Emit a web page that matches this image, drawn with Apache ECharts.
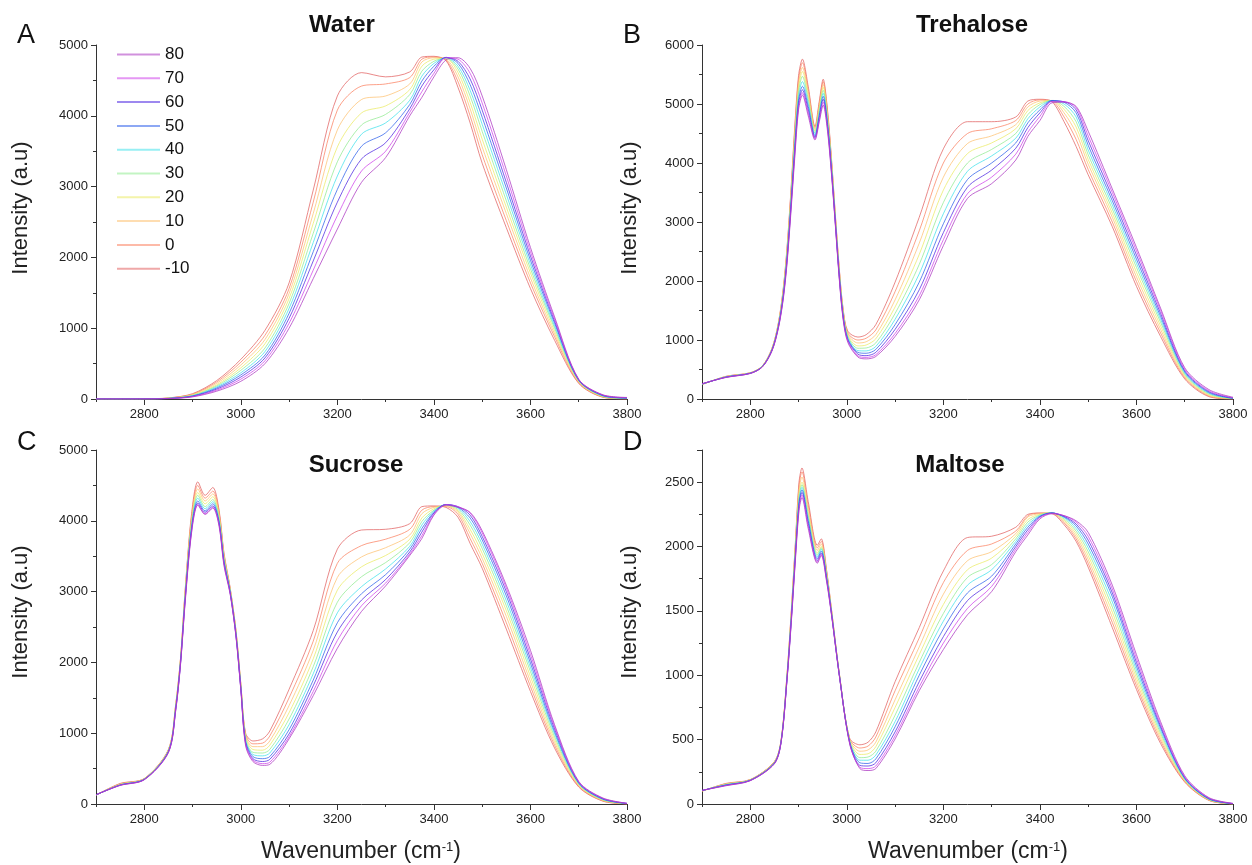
<!DOCTYPE html>
<html><head><meta charset="utf-8">
<script src="https://cdn.jsdelivr.net/npm/echarts@6/dist/echarts.min.js"></script>
<style>html,body{margin:0;padding:0;background:#fff}#c{width:1252px;height:865px}</style>
</head><body><div id="c"></div>
<script>
// Temperatures (legend labels), in series order
const temps = ['-10','0','10','20','30','40','50','60','70','80'];
const legendOrder = ['80','70','60','50','40','30','20','10','0','-10'];
const colors = ['#e16161','#fb8161','#fdc171','#ebeb65','#91eb91','#41e1eb','#2f61eb','#4d27e1','#cf41eb','#ab37c1'];
const xTickLabels = [2800,3000,3200,3400,3600,3800];

// ---- Water ----
const waveWater = [2700,2800,2850,2900,2950,3000,3050,3100,3150,3200,3250,3300,3350,3375,3400,3425,3450,3475,3500,3550,3600,3650,3700,3750,3800];
const water = [
  [0,3,15,75,260,560,970,1640,2950,4280,4610,4550,4620,4830,4840,4780,4400,3900,3330,2420,1560,830,220,25,0],
  [0,3,13,68,240,520,900,1560,2780,4080,4420,4450,4540,4800,4830,4790,4480,4000,3450,2520,1640,880,230,28,2],
  [0,2,12,62,220,480,840,1490,2620,3800,4230,4280,4450,4760,4820,4800,4550,4100,3560,2620,1710,920,240,32,4],
  [0,2,11,56,200,440,780,1420,2480,3560,4040,4140,4370,4700,4800,4810,4610,4190,3670,2710,1780,960,250,36,6],
  [0,2,10,50,185,405,720,1350,2340,3350,3870,4020,4300,4630,4770,4815,4660,4280,3780,2800,1840,1000,255,40,8],
  [0,2,9,46,170,370,670,1280,2210,3150,3740,3900,4220,4560,4740,4820,4700,4360,3880,2890,1900,1030,260,44,10],
  [0,1,8,42,155,340,620,1210,2080,2960,3570,3760,4160,4490,4700,4825,4740,4440,3980,2980,1960,1070,265,48,12],
  [0,1,7,38,140,310,580,1140,1950,2780,3390,3620,4100,4420,4650,4825,4770,4520,4080,3060,2020,1100,270,52,15],
  [0,1,6,34,125,280,540,1070,1820,2590,3220,3500,4050,4340,4600,4820,4800,4600,4180,3150,2080,1130,275,56,18],
  [0,1,5,30,110,250,500,1000,1700,2400,3060,3410,4000,4260,4550,4790,4820,4670,4280,3240,2140,1160,280,60,22]
];

// ---- Trehalose ----
const waveTrehalose = [2700,2750,2800,2825,2845,2858,2868,2876,2884,2892,2900,2908,2920,2934,2943,2951,2960,2968,2976,2984,2992,3002,3023,3040,3060,3100,3150,3200,3250,3300,3350,3375,3400,3425,3450,3475,3500,3550,3600,3650,3700,3750,3800];
const trehalose = [
  [245,385,445,560,860,1280,1850,2550,3500,4590,5480,5760,5300,4620,5050,5420,4900,4100,3150,2250,1550,1150,1050,1090,1260,1980,3080,4240,4700,4700,4780,5050,5080,5040,4700,4280,3800,2920,1910,1060,340,40,0],
  [245,382,443,558,855,1270,1830,2520,3460,4530,5410,5700,5250,4600,5010,5380,4860,4070,3130,2230,1530,1120,1000,1030,1170,1820,2850,4000,4500,4580,4720,5000,5070,5050,4780,4400,3890,3000,1990,1120,360,50,2],
  [248,380,442,556,850,1260,1810,2490,3420,4470,5340,5620,5200,4570,4970,5330,4820,4040,3110,2210,1510,1100,950,970,1090,1680,2640,3760,4330,4460,4650,4950,5050,5060,4850,4510,3980,3080,2070,1180,380,60,4],
  [250,378,440,554,845,1250,1790,2460,3380,4410,5270,5550,5140,4540,4930,5280,4780,4010,3090,2190,1490,1080,900,915,1020,1560,2450,3540,4160,4340,4580,4890,5020,5060,4910,4610,4060,3150,2150,1240,400,72,6],
  [250,376,440,552,840,1240,1770,2430,3340,4350,5200,5470,5080,4510,4890,5230,4740,3980,3070,2170,1470,1060,860,865,950,1450,2280,3330,4000,4230,4500,4820,4990,5060,4960,4700,4140,3220,2230,1300,420,85,8],
  [252,374,438,550,835,1230,1750,2400,3300,4290,5130,5380,5020,4480,4850,5180,4700,3950,3050,2150,1450,1040,820,815,890,1350,2120,3140,3860,4120,4420,4750,4950,5060,5000,4780,4220,3290,2300,1350,440,98,10],
  [255,372,436,548,830,1220,1730,2370,3260,4230,5060,5300,4960,4450,4810,5130,4660,3920,3030,2130,1430,1020,790,775,840,1260,1980,2970,3720,4000,4340,4680,4900,5060,5030,4850,4300,3360,2370,1400,460,110,12],
  [255,370,435,546,825,1210,1710,2340,3220,4170,5000,5240,4900,4430,4770,5080,4620,3890,3010,2110,1410,1000,760,735,790,1180,1850,2820,3590,3880,4250,4600,4850,5050,5040,4900,4380,3430,2440,1450,480,125,15],
  [258,368,434,544,820,1200,1690,2310,3180,4120,4950,5190,4850,4410,4730,5030,4580,3860,2990,2090,1390,980,730,705,750,1110,1750,2700,3480,3760,4150,4520,4790,5040,5040,4940,4460,3500,2510,1500,505,140,20],
  [260,365,432,542,815,1190,1670,2280,3140,4070,4900,5150,4800,4390,4700,4980,4540,3830,2970,2070,1370,960,710,680,720,1060,1680,2600,3400,3650,4050,4450,4720,5020,5030,4960,4540,3560,2570,1540,530,160,30]
];

// ---- Sucrose ----
const waveSucrose = [2700,2750,2800,2850,2865,2875,2885,2898,2911,2926,2942,2955,2965,2978,2990,3000,3010,3025,3045,3060,3100,3150,3200,3250,3300,3350,3375,3400,3425,3450,3475,3500,3550,3600,3650,3700,3750,3800];
const sucrose = [
  [125,290,360,770,1400,2050,3050,4100,4550,4360,4470,4150,3550,3050,2450,1700,1000,890,920,1030,1620,2450,3600,3870,3880,3960,4200,4210,4190,4050,3680,3330,2470,1590,790,240,40,0],
  [125,285,358,765,1390,2040,3030,4060,4500,4320,4420,4120,3530,3040,2440,1690,980,850,860,960,1500,2300,3400,3650,3740,3880,4150,4200,4200,4090,3750,3400,2560,1660,830,250,45,2],
  [126,280,356,760,1380,2030,3010,4020,4450,4280,4380,4090,3510,3030,2430,1680,960,810,810,890,1390,2170,3200,3490,3620,3800,4100,4190,4210,4120,3820,3470,2650,1730,870,260,50,3],
  [127,275,354,755,1370,2020,2990,3990,4400,4240,4340,4060,3490,3020,2420,1670,940,770,760,830,1290,2050,3020,3350,3510,3740,4040,4170,4220,4140,3880,3540,2730,1800,910,270,55,4],
  [128,272,352,750,1360,2010,2970,3960,4360,4200,4300,4030,3470,3010,2410,1660,920,730,720,770,1200,1940,2850,3210,3410,3690,3990,4150,4225,4160,3940,3610,2800,1870,950,280,60,5],
  [128,270,350,745,1350,2000,2950,3930,4320,4170,4270,4000,3450,3000,2400,1650,900,700,680,720,1120,1840,2700,3070,3320,3640,3940,4140,4230,4180,3990,3670,2870,1930,990,290,65,6],
  [129,268,348,740,1340,1990,2930,3900,4280,4140,4240,3980,3430,2990,2390,1640,880,670,640,670,1050,1750,2560,2970,3240,3600,3890,4120,4230,4190,4040,3730,2940,1990,1020,295,70,7],
  [130,266,346,735,1330,1980,2910,3870,4250,4120,4210,3960,3410,2980,2380,1630,860,640,600,630,990,1670,2430,2880,3170,3560,3840,4110,4230,4200,4080,3780,3000,2050,1060,305,75,8],
  [130,264,344,730,1320,1970,2890,3850,4230,4100,4190,3940,3390,2970,2370,1620,840,620,570,590,950,1590,2310,2800,3120,3530,3790,4090,4230,4200,4110,3830,3050,2110,1090,310,80,9],
  [130,262,342,725,1310,1960,2870,3830,4220,4090,4180,3920,3370,2960,2360,1610,820,600,545,560,920,1530,2200,2720,3080,3510,3750,4080,4220,4190,4120,3860,3090,2170,1120,320,85,10]
];

// ---- Maltose ----
const waveMaltose = [2700,2750,2800,2850,2864,2876,2885,2893,2901,2907,2920,2939,2947,2958,2968,2985,3006,3027,3044,3060,3100,3150,3200,3250,3300,3350,3375,3400,3425,3450,3475,3500,3550,3600,3650,3700,3750,3800];
const maltose = [
  [100,160,190,330,500,1000,1500,2000,2500,2610,2350,2010,2060,1820,1520,1000,510,460,480,560,950,1370,1810,2070,2080,2150,2250,2260,2255,2170,2040,1840,1370,890,470,170,28,0],
  [100,158,189,328,498,995,1490,1985,2470,2580,2320,1990,2040,1810,1515,998,505,435,450,520,880,1290,1720,1970,2020,2120,2240,2260,2258,2185,2060,1870,1410,920,490,175,30,0],
  [101,156,188,326,496,990,1480,1970,2440,2540,2290,1970,2020,1800,1510,996,500,410,420,480,810,1220,1630,1890,1960,2100,2230,2255,2260,2195,2080,1900,1450,950,510,180,32,1],
  [102,154,187,324,494,985,1470,1955,2410,2500,2260,1950,2000,1790,1505,994,495,385,390,445,750,1160,1550,1820,1910,2080,2210,2250,2262,2205,2100,1930,1490,980,530,185,34,1],
  [103,152,186,322,492,980,1460,1940,2380,2480,2240,1935,1990,1780,1500,992,490,360,365,410,690,1100,1480,1760,1860,2060,2190,2245,2262,2215,2120,1960,1530,1010,550,190,36,2],
  [104,150,185,320,490,975,1450,1925,2360,2460,2220,1920,1980,1770,1495,990,485,340,340,380,640,1050,1420,1700,1820,2040,2170,2240,2262,2225,2140,1990,1570,1040,570,195,38,2],
  [105,148,184,318,488,970,1440,1910,2340,2440,2200,1905,1965,1760,1490,988,480,320,315,350,600,1000,1360,1640,1770,2020,2150,2235,2262,2230,2160,2020,1610,1070,590,200,40,3],
  [105,146,183,316,486,965,1430,1895,2320,2420,2180,1890,1950,1750,1485,986,475,300,295,320,560,950,1300,1580,1730,2000,2130,2230,2260,2235,2175,2050,1640,1100,605,205,43,3],
  [106,144,182,314,484,960,1420,1880,2300,2400,2160,1880,1940,1740,1480,984,470,285,275,295,530,910,1250,1520,1690,1980,2110,2225,2258,2240,2190,2080,1670,1130,620,210,46,4],
  [106,142,181,312,482,955,1410,1865,2280,2380,2140,1870,1930,1730,1475,982,465,275,260,275,505,880,1200,1470,1650,1960,2090,2215,2255,2240,2200,2110,1700,1160,640,220,50,5]
];

const FONT = '"Liberation Sans", Arial, Helvetica, sans-serif';
const panels = [
  {x: waveWater, y: water, left: 96, top: 45, max: 5000, interval: 1000, title: 'Water', tx: 342, ty: 25, letter: 'A', lx: 17, ly: 36, yn: [21, 208]},
  {x: waveTrehalose, y: trehalose, left: 702, top: 45, max: 6000, interval: 1000, title: 'Trehalose', tx: 972, ty: 25, letter: 'B', lx: 623, ly: 36, yn: [630, 208]},
  {x: waveSucrose, y: sucrose, left: 96, top: 450, max: 5000, interval: 1000, title: 'Sucrose', tx: 356, ty: 465, letter: 'C', lx: 17, ly: 443, yn: [21, 612], xn: [361, 852]},
  {x: waveMaltose, y: maltose, left: 702, top: 450, max: 2750, interval: 500, title: 'Maltose', tx: 960, ty: 465, letter: 'D', lx: 623, ly: 443, yn: [630, 612], xn: [968, 852]}
];

const axisColor = '#333';
const plain = v => String(v);
const grids = [], xAxes = [], yAxes = [], series = [], graphics = [];
panels.forEach((p, pi) => {
  grids.push({left: p.left, top: p.top, width: 531, height: 354, containLabel: false});
  xAxes.push({
    gridIndex: pi, type: 'value', min: 2700, max: 3800, interval: 100, position: 'bottom',
    axisLine: {show: true, onZero: false, lineStyle: {color: axisColor, width: 1}},
    axisTick: {show: true, length: 3, lineStyle: {color: axisColor}},
    axisLabel: {show: false}, splitLine: {show: false}
  });
  xAxes.push({
    gridIndex: pi, type: 'value', min: 2700, max: 3800, interval: 100, position: 'bottom',
    axisLine: {show: false, onZero: false},
    axisTick: {show: true, length: 6, customValues: xTickLabels, lineStyle: {color: axisColor}},
    axisLabel: {show: true, customValues: xTickLabels, fontSize: 13, color: '#222', margin: 9, fontFamily: FONT, formatter: plain},
    splitLine: {show: false}
  });
  yAxes.push({
    gridIndex: pi, type: 'value', min: 0, max: p.max, interval: p.interval,
    axisLine: {show: true, lineStyle: {color: axisColor, width: 1}},
    axisTick: {show: true, length: 5, lineStyle: {color: axisColor}},
    minorTick: {show: true, splitNumber: 2, length: 3, lineStyle: {color: axisColor}},
    axisLabel: {fontSize: 13, color: '#222', margin: 8, fontFamily: FONT, formatter: plain, showMaxLabel: p.max % p.interval === 0},
    splitLine: {show: false}, minorSplitLine: {show: false}
  });
  p.y.forEach((vals, ti) => {
    series.push({
      type: 'line', name: temps[ti], xAxisIndex: pi * 2, yAxisIndex: pi,
      data: p.x.map((w, i) => [w, vals[i]]),
      symbol: 'none', showSymbol: false, smooth: 0.3,
      color: colors[ti],
      lineStyle: {width: 1, color: colors[ti], opacity: 0.75},
      animation: false, silent: true
    });
  });
  graphics.push({type: 'text', left: p.lx, top: p.ly - 14, style: {text: p.letter, font: '27px ' + FONT, fill: '#111'}});
  graphics.push({type: 'text', x: p.tx, y: p.ty, style: {text: p.title, font: 'bold 24px ' + FONT, fill: '#111', textAlign: 'center', textVerticalAlign: 'middle'}});
  graphics.push({type: 'text', x: p.yn[0], y: p.yn[1], rotation: Math.PI / 2,
    style: {text: 'Intensity (a.u)', font: '22px ' + FONT, fill: '#222', textAlign: 'center', textVerticalAlign: 'middle'}});
  if (p.xn) {
    graphics.push({type: 'text', x: p.xn[0], y: p.xn[1],
      style: {text: 'Wavenumber (cm{sup|-1})', font: '23px ' + FONT, fill: '#222', textAlign: 'center', textVerticalAlign: 'middle',
        rich: {sup: {fontSize: 13, fontFamily: FONT, fill: '#222', verticalAlign: 'top', lineHeight: 12}}}});
  }
});

const chart = echarts.init(document.getElementById('c'), null, {renderer: 'canvas'});
chart.setOption({
  backgroundColor: '#fff',
  animation: false,
  textStyle: {fontFamily: FONT},
  legend: {
    data: legendOrder, left: 117, top: 46, orient: 'vertical', padding: 0,
    icon: 'rect', itemWidth: 43, itemHeight: 2, itemGap: 6.8,
    itemStyle: {opacity: 0.55},
    textStyle: {fontSize: 17, color: '#111', fontFamily: FONT}
  },
  grid: grids, xAxis: xAxes, yAxis: yAxes, series: series, graphic: graphics
});
</script></body></html>
